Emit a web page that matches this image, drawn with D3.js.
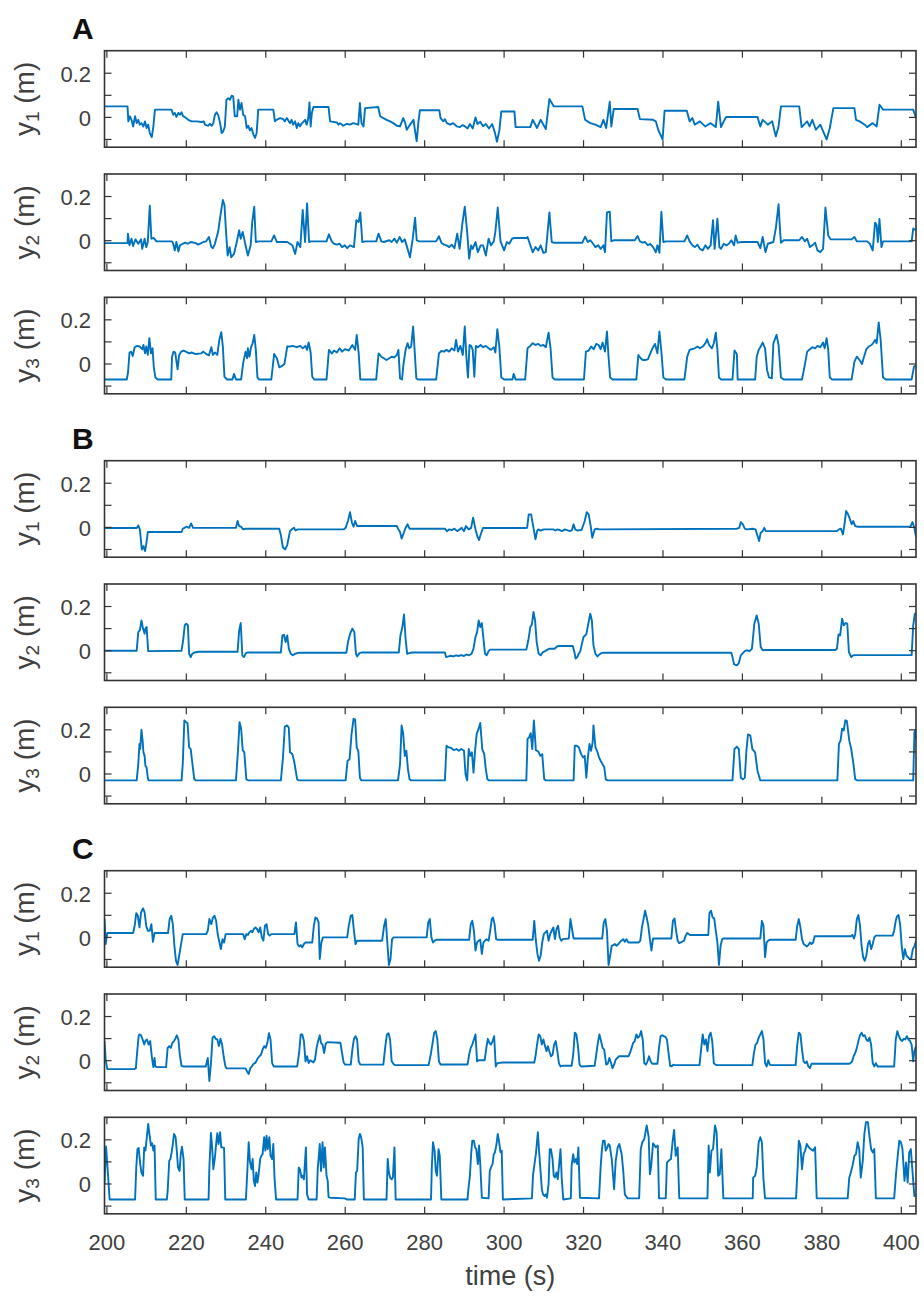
<!DOCTYPE html>
<html><head><meta charset="utf-8">
<script src="https://cdn.jsdelivr.net/npm/d3@7"></script>
<style>body{margin:0;background:#fff}svg{display:block}</style>
</head><body>
<svg id="c" width="924" height="1296"></svg>
<script>
// ---------- data ----------
const xTicks = [200,220,240,260,280,300,320,340,360,380,400];
const yTicks = [-0.1,0,0.1,0.2];
const yTickLabelled = [0,0.2];
const groupLabels = ["A","B","C"];
const subscripts = ["1","2","3"];
const xLabel = "time (s)";

const A1 = [[199.4,0.05],[205.2,0.05],[205.4,-0.018],[205.8,0.005],[206.2,-0.011],[206.6,-0.041],[207.1,0.005],[207.5,-0.026],[207.9,-0.011],[208.3,-0.033],[208.7,-0.026],[209.2,-0.041],[209.6,-0.018],[210.0,-0.048],[210.4,-0.033],[210.8,-0.071],[211.3,-0.089],[211.7,-0.041],[212.1,0.035],[216.3,0.035],[216.7,0.012],[217.1,0.02],[217.5,0.002],[218.0,0.02],[218.4,0.012],[218.8,0.023],[219.2,0.005],[219.6,0.002],[220.5,-0.011],[221.3,-0.018],[222.6,-0.018],[223.8,-0.021],[224.4,-0.018],[224.7,-0.033],[225.5,-0.038],[225.9,-0.029],[226.4,-0.038],[226.8,-0.026],[227.2,0.012],[227.6,0.023],[228.0,0.012],[228.5,-0.026],[228.9,-0.071],[229.3,-0.063],[229.7,-0.041],[230.1,0.08],[230.6,0.087],[231.0,0.08],[231.4,0.098],[231.8,0.095],[232.2,0.005],[232.8,0.005],[233.1,0.08],[233.5,0.035],[233.9,0.065],[234.3,0.012],[234.8,0.005],[235.2,-0.048],[235.6,-0.038],[236.0,-0.059],[236.4,-0.048],[236.9,-0.078],[237.3,-0.093],[237.7,-0.071],[238.1,0.035],[241.9,0.035],[242.3,-0.018],[242.7,-0.011],[243.6,-0.003],[244.4,-0.008],[244.8,-0.018],[245.3,-0.003],[246.1,-0.026],[246.5,-0.011],[246.9,-0.033],[247.4,-0.018],[247.8,-0.048],[248.2,-0.026],[248.6,-0.041],[249.0,-0.029],[249.9,-0.011],[250.3,-0.033],[250.7,-0.003],[251.0,0.068],[251.3,-0.041],[251.6,0.02],[252.0,0.047],[255.8,0.047],[256.2,-0.018],[257.9,-0.023],[258.3,-0.033],[258.7,-0.026],[259.5,-0.038],[260.4,-0.029],[261.2,-0.033],[262.0,-0.026],[263.3,-0.033],[263.7,0.065],[264.1,-0.026],[264.6,-0.041],[265.0,0.042],[268.3,0.047],[268.8,0.005],[269.6,-0.003],[270.4,-0.011],[271.3,-0.018],[272.1,-0.026],[273.0,-0.038],[273.8,-0.041],[274.6,-0.003],[275.1,-0.026],[275.5,-0.056],[276.3,-0.033],[277.2,-0.011],[277.6,-0.063],[278.0,-0.108],[278.4,-0.026],[278.8,0.032],[283.7,0.032],[284.0,-0.003],[284.7,-0.018],[285.1,-0.008],[285.6,-0.026],[286.4,-0.033],[287.2,-0.026],[288.1,-0.041],[288.9,-0.044],[289.5,-0.035],[290.1,-0.04],[290.8,-0.05],[291.4,-0.03],[292.1,-0.05],[292.8,0.0],[293.3,-0.03],[294.0,-0.02],[294.7,-0.04],[295.4,-0.03],[296.2,-0.05],[297.0,-0.03],[297.7,-0.07],[298.2,-0.11],[298.8,-0.06],[299.3,0.027],[302.6,0.027],[302.9,-0.044],[306.6,-0.044],[307.2,-0.011],[308.3,-0.048],[309.2,-0.011],[310.5,-0.053],[311.4,0.083],[312.5,0.05],[319.7,0.05],[320.4,-0.011],[321.7,-0.026],[323.0,-0.033],[324.3,-0.044],[325.0,-0.011],[325.7,-0.048],[326.6,0.071],[327.0,-0.041],[327.6,0.038],[333.6,0.038],[334.2,-0.008],[337.5,-0.011],[338.2,-0.018],[338.8,-0.056],[339.9,-0.1],[340.4,0.03],[346.0,0.03],[346.7,-0.018],[347.4,-0.003],[348.0,-0.033],[349.3,-0.018],[350.6,-0.041],[352.0,-0.026],[353.3,-0.044],[353.9,0.071],[354.6,-0.044],[355.3,-0.018],[355.9,0.002],[363.8,0.002],[364.5,-0.041],[365.1,-0.011],[366.4,-0.033],[367.5,-0.018],[368.4,-0.086],[369.1,-0.041],[369.7,0.05],[374.3,0.05],[374.9,-0.044],[376.3,-0.018],[376.9,-0.041],[377.6,-0.011],[378.5,-0.056],[379.6,-0.033],[381.2,-0.1],[382.0,-0.048],[382.9,0.042],[388.2,0.042],[388.6,-0.011],[389.5,-0.018],[390.8,-0.033],[391.4,-0.044],[392.8,-0.026],[393.8,-0.041],[394.5,0.057],[395.4,0.035],[403.0,0.035],[403.7,-0.003]];

const A2 = [[199.4,-0.011],[205.2,-0.011],[205.3,0.032],[205.7,-0.021],[206.2,0.009],[206.6,-0.024],[207.2,0.006],[207.9,-0.014],[208.6,0.006],[208.9,-0.037],[209.5,0.009],[209.9,-0.029],[210.3,-0.006],[210.8,0.159],[211.2,0.009],[211.8,0.012],[212.5,-0.003],[216.4,-0.003],[216.7,-0.014],[217.1,-0.044],[217.5,-0.006],[218.0,-0.049],[218.4,-0.021],[219.1,-0.014],[219.7,-0.009],[220.4,-0.014],[221.1,-0.006],[222.4,-0.011],[223.0,-0.018],[224.3,-0.006],[225.0,-0.003],[225.7,0.017],[226.3,-0.029],[226.7,-0.034],[227.2,-0.014],[228.0,0.04],[228.6,0.116],[229.2,0.185],[229.6,0.162],[230.0,0.04],[230.4,-0.067],[230.9,-0.029],[231.3,-0.075],[232.0,-0.06],[232.6,-0.014],[233.3,0.047],[233.7,0.009],[234.2,0.04],[234.9,-0.021],[235.5,-0.067],[236.2,-0.021],[236.6,0.085],[237.1,0.154],[237.5,-0.006],[238.2,-0.003],[241.4,-0.003],[242.1,0.024],[242.8,-0.006],[245.4,-0.006],[246.1,-0.014],[246.7,-0.021],[247.4,-0.06],[248.0,-0.006],[248.7,-0.029],[249.3,0.139],[249.9,-0.006],[250.4,0.169],[250.9,-0.006],[251.3,-0.003],[255.3,-0.003],[255.9,0.029],[256.6,-0.003],[257.2,-0.014],[257.9,-0.018],[258.6,-0.014],[259.2,-0.029],[259.9,-0.021],[260.5,-0.034],[261.2,-0.021],[262.2,-0.029],[262.8,0.093],[263.4,0.085],[263.8,0.128],[264.3,-0.006],[265.1,-0.003],[267.8,-0.003],[268.4,0.032],[269.1,-0.003],[269.7,-0.006],[271.1,0.002],[271.7,-0.006],[272.4,0.009],[273.0,-0.009],[273.7,0.017],[274.3,-0.006],[275.0,0.006],[275.7,-0.037],[276.3,-0.075],[277.0,0.009],[277.6,0.104],[278.0,0.002],[278.6,-0.003],[282.9,-0.003],[283.6,0.02],[284.2,-0.009],[284.9,-0.018],[285.5,-0.021],[286.2,-0.029],[286.8,-0.018],[287.5,-0.034],[288.2,0.032],[288.8,-0.037],[289.5,0.078],[290.1,0.154],[290.7,0.04],[291.2,-0.082],[291.7,-0.021],[292.1,-0.037],[292.8,-0.006],[293.4,-0.052],[294.1,-0.021],[294.7,-0.021],[295.4,-0.067],[296.1,0.009],[296.7,-0.021],[297.4,-0.003],[297.8,0.04],[298.4,0.15],[299.1,-0.003],[300.0,-0.044],[300.7,-0.006],[301.3,-0.014],[302.0,0.009],[302.6,0.012],[305.7,0.012],[305.9,0.017],[306.6,-0.021],[307.2,-0.052],[307.9,-0.029],[308.6,-0.044],[309.2,-0.021],[309.9,-0.055],[310.5,-0.052],[311.4,0.128],[312.0,-0.006],[312.5,-0.009],[319.7,-0.009],[320.4,0.018],[321.1,-0.006],[321.7,0.002],[322.4,-0.014],[323.0,-0.029],[323.7,-0.021],[324.3,-0.037],[325.0,-0.021],[325.4,-0.052],[325.9,0.128],[326.6,0.131],[327.0,-0.003],[327.6,0.002],[332.9,0.002],[333.6,0.021],[334.2,-0.003],[334.9,-0.009],[335.5,-0.006],[336.2,-0.021],[336.8,-0.014],[337.5,-0.029],[338.2,-0.052],[338.6,-0.021],[339.1,-0.055],[339.6,0.131],[340.1,-0.006],[340.8,-0.003],[345.4,-0.003],[346.1,0.024],[346.7,-0.003],[347.4,-0.021],[348.0,-0.029],[348.7,-0.018],[349.3,-0.037],[350.0,-0.044],[350.7,-0.021],[351.3,-0.037],[352.0,-0.021],[352.6,0.093],[353.0,-0.037],[353.7,0.1],[354.2,-0.029],[354.6,-0.037],[355.3,-0.014],[355.9,-0.021],[356.6,-0.014],[357.2,0.002],[357.9,-0.021],[358.3,0.024],[358.8,-0.009],[359.9,-0.006],[363.8,-0.006],[364.5,-0.034],[365.1,0.017],[365.8,-0.052],[366.4,-0.014],[367.8,-0.006],[368.4,0.055],[369.1,0.165],[369.5,0.04],[369.7,-0.009],[370.4,0.002],[374.3,0.002],[375.0,0.017],[375.7,-0.003],[376.3,0.009],[377.0,-0.029],[377.6,-0.021],[378.3,-0.009],[378.9,-0.044],[379.6,-0.052],[380.3,-0.037],[380.9,0.15],[381.6,0.024],[382.2,0.006],[387.5,0.006],[388.2,0.017],[388.8,-0.003],[391.4,-0.003],[392.1,-0.014],[392.8,-0.044],[393.4,0.082],[393.8,0.07],[394.1,-0.006],[394.5,0.098],[395.0,-0.029],[395.4,-0.003],[402.6,-0.003],[403.0,0.055],[403.7,0.047]];

const A3 = [[199.4,-0.07],[205.0,-0.07],[205.3,-0.042],[205.7,0.052],[206.1,0.056],[206.5,0.036],[207.0,0.076],[207.6,0.082],[208.3,0.079],[208.9,0.067],[209.2,0.086],[209.6,0.048],[209.9,0.079],[210.3,0.041],[210.7,0.117],[211.1,0.048],[211.5,0.071],[211.8,-0.012],[212.2,-0.061],[212.8,-0.07],[216.2,-0.07],[216.4,0.033],[216.8,0.056],[217.2,0.052],[217.8,-0.024],[218.2,0.041],[218.7,0.056],[219.3,0.061],[220.0,0.055],[220.7,0.048],[221.3,0.052],[222.4,0.045],[223.7,0.048],[224.3,0.056],[225.0,0.045],[225.7,0.039],[226.3,0.076],[226.7,0.041],[227.2,0.052],[227.8,0.041],[228.3,0.109],[228.8,0.144],[229.2,0.079],[229.6,-0.058],[230.3,-0.07],[231.6,-0.07],[232.0,-0.045],[232.5,-0.07],[233.8,-0.07],[234.3,0.003],[234.9,0.056],[235.3,0.026],[235.5,0.071],[235.9,0.033],[236.3,0.076],[236.7,0.094],[237.1,0.132],[237.5,0.064],[237.9,-0.061],[238.3,-0.07],[241.4,-0.07],[242.1,0.045],[242.8,0.026],[243.4,-0.015],[244.1,-0.009],[244.7,0.0],[245.4,0.079],[246.1,0.079],[246.7,0.082],[247.8,0.076],[248.7,0.082],[249.3,0.071],[250.0,0.082],[250.4,0.064],[250.8,0.098],[251.3,0.052],[251.7,-0.058],[252.2,-0.07],[255.3,-0.07],[255.9,0.064],[256.6,0.048],[257.2,0.061],[257.9,0.052],[258.6,0.071],[259.2,0.056],[259.9,0.067],[260.9,0.061],[261.8,0.086],[262.5,0.064],[262.9,0.132],[263.4,0.048],[263.8,-0.07],[267.8,-0.07],[268.4,0.048],[269.1,0.033],[269.7,0.026],[270.4,0.018],[271.1,0.026],[271.7,0.033],[272.4,0.03],[273.0,0.041],[273.4,0.064],[273.8,-0.065],[274.3,-0.07],[274.7,0.003],[275.2,0.064],[275.7,0.094],[276.1,0.071],[276.6,0.079],[277.1,0.17],[277.5,0.056],[277.9,-0.065],[278.3,-0.07],[282.9,-0.07],[283.6,0.048],[284.2,0.059],[284.9,0.056],[285.5,0.064],[286.2,0.056],[286.8,0.071],[287.5,0.061],[287.9,0.109],[288.4,0.056],[289.0,0.082],[289.6,0.041],[290.1,0.17],[290.5,0.033],[290.9,-0.061],[291.3,0.086],[291.7,0.082],[292.1,0.064],[292.5,-0.058],[292.9,0.082],[293.4,0.076],[294.1,0.086],[294.7,0.076],[295.4,0.082],[296.1,0.071],[296.7,0.064],[297.4,0.076],[297.8,0.052],[298.3,0.158],[298.8,0.079],[299.3,-0.061],[300.0,-0.07],[302.1,-0.07],[302.4,-0.045],[302.9,-0.07],[305.3,-0.07],[305.9,0.071],[306.6,0.082],[307.2,0.094],[307.9,0.086],[308.6,0.091],[309.2,0.082],[309.9,0.086],[310.5,0.076],[311.2,0.142],[311.7,0.071],[312.2,-0.061],[312.7,-0.07],[320.1,-0.07],[320.6,0.056],[321.3,0.061],[321.9,0.079],[322.6,0.067],[323.2,0.091],[323.8,0.086],[324.3,0.067],[324.8,0.097],[325.4,0.056],[325.9,0.147],[326.3,0.033],[326.7,-0.061],[327.3,-0.07],[333.3,-0.07],[333.8,0.041],[334.4,0.026],[334.9,0.018],[335.5,0.018],[336.2,0.021],[336.8,0.048],[337.5,0.076],[338.0,0.091],[338.6,0.048],[339.1,0.147],[339.6,0.056],[340.1,-0.061],[340.8,-0.07],[345.4,-0.07],[346.1,0.033],[346.7,0.064],[347.4,0.068],[348.0,0.071],[348.7,0.079],[349.3,0.071],[350.0,0.079],[350.7,0.094],[351.1,0.112],[351.6,0.086],[352.3,0.071],[352.8,0.094],[353.3,0.142],[353.7,0.064],[354.1,-0.061],[354.6,-0.07],[357.5,-0.07],[358.0,0.061],[358.6,0.045],[358.8,-0.07],[363.2,-0.07],[363.6,0.033],[364.1,0.064],[364.5,0.076],[365.1,0.097],[365.7,0.071],[366.2,-0.027],[366.7,-0.061],[367.4,-0.065],[367.8,0.094],[368.6,0.132],[369.1,0.086],[369.7,-0.061],[370.4,-0.07],[375.0,-0.07],[375.7,-0.005],[376.3,0.056],[377.0,0.067],[377.6,0.076],[378.3,0.071],[378.9,0.082],[379.6,0.076],[380.3,0.097],[380.7,0.071],[381.2,0.117],[381.6,0.064],[382.0,-0.061],[382.6,-0.07],[387.5,-0.07],[388.2,0.011],[388.8,0.033],[389.5,0.018],[390.1,0.0],[390.5,0.026],[391.2,0.067],[391.8,0.079],[392.5,0.086],[393.0,0.097],[393.4,0.109],[393.8,0.094],[394.3,0.188],[394.8,0.109],[395.4,-0.061],[396.1,-0.07],[402.6,-0.07],[403.2,-0.012],[403.7,-0.005]];

const B1 = [[199.4,-0.003],[207.5,-0.003],[207.9,0.009],[208.3,-0.009],[208.8,-0.1],[209.2,-0.085],[209.6,-0.107],[209.9,-0.077],[210.3,-0.021],[218.8,-0.021],[219.1,-0.006],[219.5,-0.002],[220.0,0.003],[220.7,-0.002],[221.2,0.018],[221.7,-0.002],[232.5,-0.002],[232.9,0.029],[233.3,0.006],[233.8,0.003],[234.3,-0.009],[234.9,-0.006],[243.4,-0.006],[243.8,-0.035],[244.3,-0.09],[244.9,-0.1],[245.4,-0.08],[246.1,-0.017],[246.7,-0.006],[247.1,-0.002],[247.5,-0.014],[248.0,-0.009],[259.6,-0.009],[260.1,-0.002],[260.7,0.029],[261.2,0.069],[261.7,0.021],[262.1,0.003],[262.5,0.029],[263.0,0.006],[273.0,0.006],[273.4,-0.009],[273.8,-0.021],[274.2,-0.051],[274.6,-0.032],[275.1,-0.006],[275.7,0.014],[276.2,-0.006],[285.1,-0.006],[285.6,-0.017],[286.2,-0.009],[286.8,-0.012],[287.5,-0.006],[288.2,-0.017],[288.8,-0.009],[289.3,-0.002],[289.9,-0.017],[290.4,0.006],[291.1,-0.009],[291.7,-0.002],[292.2,0.044],[292.8,-0.009],[293.3,-0.042],[293.7,-0.057],[294.1,-0.032],[294.7,-0.002],[295.4,-0.003],[305.3,-0.003],[305.8,-0.002],[306.2,0.059],[306.8,0.059],[307.4,-0.002],[307.9,-0.054],[308.3,-0.017],[308.6,-0.009],[309.2,-0.015],[310.0,-0.009],[312.4,-0.009],[312.9,-0.014],[313.4,-0.009],[314.0,-0.012],[314.6,-0.017],[315.3,-0.009],[316.6,-0.017],[317.1,-0.012],[317.5,0.014],[317.9,-0.009],[318.4,-0.014],[319.5,-0.012],[320.3,0.029],[320.8,0.069],[321.3,0.059],[321.8,0.006],[322.2,-0.047],[322.8,-0.009],[323.3,-0.006],[324.0,-0.009],[358.6,-0.006],[359.2,-0.002],[359.6,0.024],[360.1,0.014],[360.6,-0.006],[361.1,-0.009],[362.6,-0.006],[363.3,-0.009],[363.7,-0.032],[364.2,-0.062],[364.6,-0.024],[365.1,-0.017],[365.5,-0.002],[365.9,-0.017],[383.8,-0.017],[384.3,-0.009],[384.8,-0.006],[385.3,-0.032],[385.7,0.014],[386.1,0.074],[386.6,0.059],[387.1,0.036],[387.5,0.014],[387.9,0.029],[388.4,0.006],[389.1,0.003],[402.3,0.003],[402.8,0.024],[403.3,-0.002],[403.7,-0.042]];

const B2 = [[199.4,0.0],[207.5,0.0],[207.9,0.084],[208.3,0.092],[208.7,0.137],[209.1,0.1],[209.5,0.077],[209.7,0.1],[210.0,0.107],[210.4,-0.002],[218.8,0.0],[219.2,0.047],[219.6,0.115],[220.0,0.122],[220.4,0.115],[220.7,-0.014],[221.1,-0.029],[221.5,-0.014],[222.1,-0.008],[223.0,-0.005],[232.9,-0.005],[233.3,0.092],[233.7,0.125],[234.1,-0.021],[234.5,-0.029],[235.0,-0.011],[235.5,-0.008],[243.8,-0.008],[244.2,0.069],[244.6,0.072],[245.0,0.039],[245.4,0.069],[245.8,0.009],[246.3,-0.014],[246.8,-0.021],[247.4,-0.014],[248.4,-0.009],[260.3,-0.009],[260.7,0.039],[261.3,0.08],[261.8,0.1],[262.3,0.084],[262.7,-0.014],[263.0,-0.026],[263.6,-0.011],[264.2,-0.008],[273.5,-0.008],[273.9,0.069],[274.4,0.107],[274.8,0.164],[275.2,0.054],[275.6,-0.014],[276.1,-0.011],[276.8,-0.008],[285.1,-0.008],[285.4,-0.029],[286.0,-0.026],[286.5,-0.023],[287.2,-0.026],[287.9,-0.021],[288.5,-0.024],[289.2,-0.02],[289.9,-0.024],[290.5,-0.017],[291.2,-0.021],[291.8,-0.014],[292.3,0.009],[292.8,0.062],[293.2,0.084],[293.6,0.137],[294.0,0.107],[294.4,0.125],[294.8,0.054],[295.2,-0.014],[295.6,-0.021],[296.1,-0.002],[296.5,0.005],[305.6,0.005],[306.1,0.047],[306.6,0.107],[307.0,0.119],[307.4,0.175],[307.8,0.137],[308.2,0.039],[308.7,-0.014],[309.2,-0.021],[309.8,-0.006],[310.3,-0.002],[311.4,0.009],[312.7,0.009],[313.4,0.02],[314.0,0.021],[317.3,0.021],[317.7,-0.006],[318.0,-0.036],[318.4,-0.029],[318.8,-0.014],[319.2,-0.002],[319.6,0.032],[320.0,0.062],[320.7,0.074],[321.2,0.122],[321.7,0.167],[322.1,0.137],[322.5,0.024],[323.0,-0.014],[323.5,-0.026],[324.0,-0.017],[324.5,-0.011],[325.2,-0.009],[357.2,-0.009],[357.5,-0.029],[357.9,-0.062],[358.6,-0.066],[359.1,-0.056],[359.6,-0.021],[360.1,-0.011],[360.6,-0.002],[361.1,0.002],[361.8,-0.002],[362.4,0.009],[363.0,0.122],[363.6,0.16],[364.1,0.122],[364.6,0.017],[365.1,0.002],[365.8,0.003],[383.4,0.003],[383.8,0.009],[384.2,0.074],[384.6,0.069],[385.1,0.145],[385.5,0.115],[386.0,0.125],[386.4,0.122],[386.8,-0.006],[387.4,-0.029],[387.9,-0.021],[388.4,-0.02],[402.6,-0.02],[403.0,0.115],[403.4,0.167],[403.7,0.17]];

const B3 = [[199.4,-0.029],[207.5,-0.029],[207.9,0.044],[208.2,0.136],[208.4,0.113],[208.7,0.2],[209.0,0.151],[209.2,0.098],[209.5,0.082],[209.7,0.037],[210.0,0.029],[210.3,-0.017],[210.5,-0.029],[218.8,-0.029],[219.1,0.044],[219.5,0.243],[219.9,0.235],[220.3,0.231],[220.7,0.121],[221.1,0.113],[221.5,0.052],[222.0,-0.024],[222.4,-0.029],[232.5,-0.029],[233.0,0.105],[233.4,0.235],[233.8,0.205],[234.2,0.108],[234.6,0.098],[235.1,-0.024],[235.6,-0.029],[243.8,-0.029],[244.3,0.067],[244.8,0.215],[245.4,0.22],[245.8,0.209],[246.1,0.098],[246.7,0.09],[247.2,0.052],[247.9,-0.024],[248.3,-0.029],[260.1,-0.029],[260.6,0.06],[261.1,0.067],[261.6,0.182],[262.1,0.25],[262.5,0.246],[262.9,0.121],[263.3,0.105],[263.7,-0.017],[264.1,-0.029],[273.3,-0.029],[273.8,0.044],[274.2,0.22],[274.6,0.182],[275.0,0.082],[275.4,0.105],[275.8,0.021],[276.2,-0.024],[276.6,-0.029],[285.1,-0.029],[285.5,0.128],[286.0,0.121],[286.7,0.118],[287.3,0.108],[288.0,0.113],[288.6,0.105],[289.2,0.113],[289.9,0.105],[290.3,-0.002],[290.7,-0.029],[291.1,0.113],[291.5,0.082],[291.9,0.098],[292.3,0.006],[292.7,0.105],[293.1,0.182],[293.6,0.205],[294.0,0.231],[294.5,0.113],[295.0,0.09],[295.4,0.021],[295.8,-0.024],[296.2,-0.029],[305.6,-0.029],[305.9,0.159],[306.3,0.166],[306.7,0.185],[307.1,0.113],[307.5,0.243],[308.0,0.108],[308.6,0.102],[309.1,0.082],[309.6,0.09],[310.1,-0.024],[310.5,-0.029],[317.5,-0.029],[317.8,0.128],[318.3,0.128],[318.8,0.121],[319.4,0.09],[319.9,0.075],[320.3,0.082],[320.7,-0.017],[321.1,0.075],[321.5,0.136],[321.9,0.105],[322.3,0.144],[322.5,0.22],[323.0,0.121],[323.4,0.105],[323.9,0.075],[324.3,0.06],[324.8,0.044],[325.2,0.032],[325.6,-0.024],[326.0,-0.029],[357.5,-0.029],[358.0,0.113],[358.6,0.124],[359.1,0.113],[359.6,-0.017],[360.1,-0.024],[360.6,-0.017],[361.0,0.105],[361.4,0.179],[362.0,0.174],[362.5,0.113],[363.2,0.098],[363.8,0.014],[364.5,-0.029],[383.9,-0.029],[384.3,0.136],[384.7,0.151],[385.1,0.205],[385.5,0.197],[385.9,0.243],[386.3,0.24],[386.9,0.151],[387.4,0.113],[387.9,0.052],[388.4,-0.024],[388.9,-0.029],[403.0,-0.029],[403.3,0.189],[403.5,0.197],[403.7,0.159]];

const C1 = [[199.4,0.083],[199.7,-0.03],[200.1,0.02],[206.6,0.02],[207.0,0.053],[207.4,0.11],[207.8,0.098],[208.2,0.045],[208.6,0.113],[209.1,0.131],[209.5,0.113],[209.9,0.053],[210.3,0.03],[210.8,0.03],[211.2,0.06],[211.6,-0.02],[212.0,0.02],[215.4,0.02],[215.8,0.083],[216.2,0.098],[216.6,0.06],[217.0,-0.038],[217.4,-0.106],[217.8,-0.125],[218.2,-0.083],[218.6,-0.038],[219.1,0.015],[225.0,0.015],[225.4,0.03],[225.8,0.083],[226.3,0.06],[226.7,0.09],[227.1,0.098],[227.5,0.075],[227.9,0.015],[228.3,-0.02],[228.7,-0.053],[229.1,-0.008],[229.5,-0.023],[229.9,0.015],[234.3,0.015],[234.7,-0.008],[235.1,0.015],[235.5,0.011],[235.9,0.023],[236.3,0.03],[236.6,0.023],[237.0,0.038],[237.4,0.045],[237.8,0.038],[238.2,0.023],[238.6,0.045],[239.0,0.0],[239.4,-0.015],[239.8,0.053],[240.2,0.06],[240.6,0.015],[241.0,0.008],[241.4,0.015],[247.2,0.015],[247.6,0.068],[248.0,-0.03],[248.4,-0.041],[248.8,-0.035],[249.2,-0.045],[249.6,-0.03],[250.0,-0.023],[251.7,-0.023],[252.1,0.053],[252.5,0.09],[252.9,0.086],[253.3,0.068],[253.6,-0.098],[254.0,-0.023],[254.4,0.0],[260.5,0.0],[260.9,0.053],[261.4,0.098],[261.8,0.101],[262.2,0.03],[262.6,-0.03],[263.0,-0.015],[269.3,-0.015],[269.8,0.053],[270.2,0.083],[270.6,-0.023],[271.0,-0.125],[271.4,-0.098],[271.8,-0.008],[272.2,0.0],[280.5,0.0],[280.9,0.068],[281.3,0.083],[281.7,0.0],[282.1,-0.023],[282.5,-0.015],[282.9,-0.011],[291.2,-0.011],[291.6,0.06],[292.0,0.075],[292.4,0.03],[292.8,-0.06],[293.2,-0.023],[293.6,-0.015],[294.0,-0.011],[294.4,-0.075],[294.8,-0.023],[295.2,-0.015],[295.6,-0.008],[296.1,-0.015],[296.5,0.03],[296.9,0.083],[297.2,0.09],[297.6,0.06],[298.0,-0.008],[298.4,-0.011],[307.2,-0.011],[307.6,0.075],[308.0,-0.015],[308.4,-0.075],[308.8,-0.106],[309.2,-0.083],[309.6,-0.023],[310.0,0.015],[310.4,0.023],[310.8,0.03],[311.2,-0.015],[311.6,0.015],[312.0,0.03],[312.4,0.045],[312.8,-0.008],[313.2,0.038],[313.6,0.053],[314.0,0.0],[314.4,-0.015],[314.8,-0.008],[316.3,-0.005],[316.7,0.083],[317.1,0.038],[317.5,-0.005],[324.7,-0.005],[325.1,0.068],[325.5,0.083],[325.9,0.03],[326.3,-0.125],[326.7,-0.083],[327.1,-0.038],[327.5,-0.035],[327.9,-0.03],[328.3,-0.038],[328.8,-0.03],[329.1,-0.023],[329.5,-0.015],[330.0,-0.008],[330.4,-0.02],[330.8,-0.008],[331.3,-0.023],[333.9,-0.023],[334.3,-0.015],[334.7,0.045],[335.1,0.083],[335.5,0.121],[335.9,0.09],[336.3,0.053],[336.7,-0.008],[337.1,-0.06],[337.5,-0.005],[342.1,-0.005],[342.5,0.075],[342.9,0.086],[343.3,0.03],[343.7,-0.015],[344.1,-0.026],[344.5,-0.023],[345.3,-0.015],[345.7,0.008],[346.1,0.02],[346.5,0.015],[346.8,0.011],[351.4,0.011],[351.7,0.11],[352.1,0.121],[352.5,0.09],[352.9,0.086],[353.3,0.03],[353.7,-0.023],[354.1,-0.125],[354.5,-0.038],[354.9,-0.008],[355.3,-0.005],[364.5,-0.005],[364.9,0.075],[365.3,0.053],[365.7,-0.09],[366.1,-0.023],[366.5,-0.015],[366.9,-0.011],[373.4,-0.011],[373.8,0.053],[374.2,0.083],[374.6,0.045],[375.0,-0.008],[375.4,-0.03],[375.8,-0.035],[376.2,-0.041],[376.6,-0.035],[377.0,-0.023],[377.4,-0.03],[377.8,-0.023],[378.2,0.005],[387.3,0.005],[387.7,0.011],[388.1,-0.005],[388.4,0.015],[388.8,0.083],[389.2,0.101],[389.6,0.053],[390.0,-0.038],[390.4,-0.09],[390.8,-0.106],[391.2,-0.083],[391.6,-0.03],[392.0,-0.015],[392.4,-0.053],[392.8,-0.03],[393.2,0.0],[393.6,0.008],[397.8,0.008],[398.2,0.03],[398.6,0.075],[398.9,0.095],[399.3,0.101],[399.7,0.06],[400.1,-0.038],[400.5,-0.098],[400.9,-0.053],[401.3,-0.083],[401.7,-0.09],[402.1,-0.098],[402.5,-0.095],[402.9,-0.053],[403.3,-0.041],[403.7,-0.015]];

const C2 = [[199.4,0.089],[199.7,0.005],[200.1,-0.038],[206.9,-0.038],[207.3,-0.034],[207.6,0.035],[208.0,0.111],[208.2,0.119],[208.6,0.115],[209.0,0.096],[209.4,0.073],[209.7,0.089],[210.1,0.096],[210.5,0.073],[210.9,0.089],[211.3,0.02],[211.7,-0.029],[212.0,0.012],[212.2,-0.026],[212.6,-0.029],[214.9,-0.029],[215.3,0.058],[215.7,0.066],[216.1,0.058],[216.5,0.081],[216.9,0.089],[217.2,0.099],[217.6,0.115],[218.0,0.096],[218.4,0.02],[218.8,-0.023],[219.2,-0.026],[224.9,-0.026],[225.4,0.012],[225.8,-0.092],[226.2,-0.011],[226.6,0.104],[227.0,0.111],[227.4,0.099],[227.8,0.096],[228.2,0.066],[228.6,0.099],[229.0,0.073],[229.4,0.02],[229.8,-0.023],[230.1,-0.035],[234.9,-0.035],[235.3,-0.049],[235.7,-0.06],[236.1,-0.034],[236.5,-0.026],[236.9,-0.014],[237.3,-0.011],[237.6,-0.003],[238.0,0.012],[238.4,0.02],[238.8,0.027],[239.2,0.05],[239.6,0.066],[240.0,0.058],[240.4,0.081],[240.8,0.124],[241.2,0.096],[241.6,-0.011],[242.0,-0.026],[247.9,-0.026],[248.4,0.035],[248.8,0.119],[249.2,0.119],[249.6,0.089],[250.0,-0.003],[250.4,0.02],[250.8,-0.011],[251.2,0.002],[251.6,-0.003],[252.0,-0.008],[252.4,0.005],[252.8,0.058],[253.1,0.084],[253.6,0.115],[253.9,0.081],[254.3,0.073],[254.7,0.035],[255.1,0.078],[255.5,0.084],[258.4,0.081],[258.8,0.081],[259.2,0.035],[259.6,-0.008],[260.0,-0.018],[261.4,-0.018],[261.8,0.05],[262.2,0.099],[262.6,0.111],[263.0,0.096],[263.4,-0.003],[263.8,-0.018],[269.6,-0.018],[270.1,0.066],[270.5,0.119],[270.9,0.124],[271.3,0.096],[271.7,-0.003],[272.1,-0.014],[272.5,-0.02],[281.0,-0.02],[281.6,0.035],[282.0,0.081],[282.4,0.127],[282.8,0.134],[283.2,0.096],[283.6,-0.003],[284.0,-0.017],[290.8,-0.017],[291.2,0.027],[291.6,0.058],[292.0,0.073],[292.4,0.096],[292.8,0.119],[293.2,-0.003],[293.6,0.002],[295.1,0.002],[295.6,0.066],[295.9,0.099],[296.3,0.081],[296.7,0.073],[297.1,0.089],[297.5,0.111],[297.9,-0.026],[298.3,-0.011],[299.7,-0.008],[307.6,-0.008],[307.9,0.02],[308.3,0.073],[308.7,0.119],[309.1,0.111],[309.5,0.073],[309.9,0.096],[310.3,0.066],[310.7,0.043],[311.0,0.066],[311.4,0.043],[311.8,0.02],[312.2,0.027],[312.6,0.073],[313.0,0.089],[313.4,0.043],[313.8,-0.011],[314.2,-0.026],[314.6,-0.023],[317.0,-0.023],[317.4,0.027],[317.8,0.127],[318.2,0.119],[318.6,0.066],[319.0,-0.018],[319.4,-0.026],[322.8,-0.023],[323.2,0.027],[323.6,0.081],[324.0,0.119],[324.4,0.089],[324.8,0.058],[325.2,0.05],[325.7,-0.018],[326.1,-0.014],[326.5,0.012],[326.9,-0.008],[327.3,-0.034],[327.7,-0.018],[328.1,0.005],[328.5,0.012],[328.9,0.02],[331.3,0.02],[331.7,0.035],[332.1,0.058],[332.5,0.081],[332.9,0.089],[333.3,0.119],[333.7,0.104],[334.1,0.111],[334.5,0.134],[334.9,0.096],[335.3,-0.011],[335.7,-0.018],[336.1,-0.003],[336.5,0.02],[336.9,-0.003],[337.3,-0.014],[338.6,-0.014],[339.0,0.058],[339.4,0.111],[339.8,0.115],[340.2,0.111],[340.6,0.108],[341.0,0.096],[341.4,0.035],[341.8,-0.023],[342.2,-0.026],[342.6,-0.018],[342.9,-0.02],[349.2,-0.02],[349.6,0.05],[350.0,0.119],[350.4,0.073],[350.8,0.096],[351.2,0.043],[351.6,0.111],[352.0,0.127],[352.4,0.089],[352.8,-0.011],[353.2,-0.018],[353.6,-0.02],[362.5,-0.02],[362.9,0.035],[363.3,0.073],[363.7,0.081],[364.1,0.104],[364.5,0.119],[364.9,0.134],[365.3,0.096],[365.7,-0.011],[366.1,-0.026],[366.5,0.002],[366.9,-0.018],[367.3,-0.02],[373.4,-0.02],[373.8,0.073],[374.2,0.127],[374.6,0.119],[375.0,0.05],[375.4,-0.003],[375.8,-0.011],[376.2,-0.003],[376.6,-0.026],[377.0,-0.034],[377.4,-0.014],[386.8,-0.014],[387.2,-0.011],[387.6,-0.003],[388.0,0.02],[388.4,0.035],[388.8,0.058],[389.2,0.089],[389.6,0.115],[390.0,0.127],[390.4,0.111],[390.8,0.115],[391.2,0.096],[391.6,0.089],[392.0,0.104],[392.4,0.073],[392.8,-0.011],[393.2,-0.026],[393.6,-0.011],[394.0,-0.026],[398.2,-0.026],[398.6,0.096],[399.0,0.134],[399.4,0.111],[399.8,0.096],[400.2,0.089],[400.6,0.099],[401.0,0.096],[401.4,0.111],[401.8,0.096],[402.2,0.089],[402.6,0.073],[403.0,-0.003],[403.3,0.043],[403.7,0.066]];

const C3 = [[199.4,0.0],[199.8,0.17],[200.7,-0.07],[207.1,-0.07],[207.4,0.075],[207.7,0.158],[208.0,0.163],[208.4,0.09],[208.7,0.052],[209.1,0.037],[209.4,0.166],[209.7,0.151],[210.1,0.219],[210.4,0.272],[210.7,0.227],[211.1,0.174],[211.4,0.184],[211.7,0.151],[212.0,0.174],[212.3,-0.07],[215.1,-0.07],[215.3,-0.032],[215.7,0.105],[216.0,0.113],[216.3,0.143],[216.6,0.181],[216.9,0.227],[217.3,0.212],[217.6,0.151],[217.9,0.075],[218.3,0.059],[218.6,0.135],[218.9,0.169],[219.3,0.113],[219.6,-0.07],[225.6,-0.07],[225.8,0.075],[226.2,0.231],[226.5,0.166],[226.8,0.067],[227.2,0.12],[227.5,0.181],[227.8,0.23],[228.1,0.181],[228.5,0.234],[228.8,0.166],[229.1,0.166],[229.5,0.163],[229.8,-0.07],[235.0,-0.07],[235.4,0.075],[235.7,0.189],[236.0,0.105],[236.4,0.067],[236.7,0.113],[237.0,0.014],[237.3,-0.009],[237.6,0.052],[237.9,0.006],[238.2,0.044],[238.6,0.113],[238.9,0.128],[239.2,0.135],[239.6,0.212],[239.9,0.151],[240.2,0.219],[240.5,0.158],[240.9,0.212],[241.2,0.128],[241.6,0.113],[241.9,0.181],[242.2,0.029],[242.6,-0.07],[248.0,-0.07],[248.3,0.075],[248.6,0.067],[249.0,0.029],[249.3,0.037],[249.6,0.021],[250.1,0.166],[250.4,-0.047],[250.8,-0.07],[252.8,-0.07],[253.1,0.075],[253.3,0.113],[253.6,0.181],[253.9,0.059],[254.3,0.189],[254.6,0.075],[254.9,0.166],[255.3,0.037],[255.6,0.014],[255.8,-0.059],[256.2,-0.062],[259.9,-0.065],[260.4,-0.07],[262.4,-0.07],[262.7,0.052],[263.0,0.059],[263.4,0.204],[263.7,0.227],[264.0,0.212],[264.4,0.166],[264.7,-0.07],[270.4,-0.07],[270.7,0.113],[271.0,0.052],[271.3,0.029],[271.7,0.021],[272.0,0.029],[272.4,0.166],[272.7,-0.07],[281.6,-0.07],[281.8,0.075],[282.1,0.189],[282.5,0.151],[282.8,0.059],[283.1,0.037],[283.5,0.158],[283.8,0.128],[284.2,-0.07],[290.8,-0.07],[291.0,-0.024],[291.4,0.037],[291.7,0.135],[292.0,0.196],[292.4,0.196],[292.7,0.166],[293.0,0.158],[293.4,0.09],[293.7,0.174],[294.0,0.09],[294.4,-0.062],[296.1,-0.065],[296.4,0.059],[296.7,0.075],[297.1,0.09],[297.4,0.135],[297.7,0.143],[298.1,0.181],[298.4,0.227],[298.7,0.196],[299.1,0.143],[299.4,0.151],[299.7,-0.07],[307.0,-0.065],[307.3,0.044],[308.0,0.135],[308.5,0.234],[308.8,0.151],[309.2,0.052],[309.5,-0.024],[309.8,-0.047],[310.2,-0.055],[310.5,-0.047],[310.8,-0.062],[311.2,0.0],[311.5,0.158],[311.8,0.158],[312.2,0.113],[312.5,0.037],[312.8,0.029],[313.2,0.052],[313.5,0.021],[313.9,0.097],[314.2,0.158],[314.5,0.029],[314.9,-0.07],[316.8,-0.065],[317.0,0.082],[317.4,0.135],[317.7,0.097],[318.1,0.113],[318.4,0.09],[318.7,0.166],[319.1,-0.062],[323.9,-0.065],[324.3,0.075],[324.6,0.151],[324.9,0.196],[325.3,0.196],[325.6,0.151],[326.0,0.166],[326.3,0.181],[326.6,0.174],[327.1,0.113],[327.7,-0.024],[328.1,0.105],[328.6,0.166],[329.0,0.181],[329.6,0.135],[330.0,0.059],[330.4,-0.047],[331.1,-0.065],[334.0,-0.065],[334.4,0.158],[334.8,0.189],[335.3,0.204],[335.9,0.265],[336.4,0.212],[336.7,0.044],[337.0,0.075],[337.5,0.184],[338.2,0.166],[338.7,0.174],[339.0,-0.065],[340.7,-0.065],[341.0,0.097],[341.4,0.105],[342.0,0.113],[342.4,0.189],[342.8,0.245],[343.2,0.128],[343.7,0.166],[344.1,-0.065],[351.2,-0.065],[351.5,0.174],[351.8,0.052],[352.2,0.151],[352.6,0.158],[353.1,0.265],[353.5,0.234],[353.9,0.037],[354.3,0.044],[354.7,0.158],[355.2,-0.065],[362.6,-0.065],[362.7,0.029],[363.2,0.037],[363.6,0.075],[364.1,0.189],[364.5,0.212],[364.9,0.189],[365.3,0.021],[365.7,-0.065],[373.5,-0.065],[373.9,0.075],[374.2,0.196],[374.6,0.174],[375.0,0.067],[375.4,0.135],[375.8,0.151],[376.2,0.181],[376.7,0.166],[377.2,0.158],[377.8,0.151],[378.3,0.166],[378.7,-0.065],[386.5,-0.065],[386.9,0.029],[387.3,0.052],[387.7,0.082],[388.2,0.128],[388.6,0.135],[389.0,0.189],[389.4,0.158],[389.8,0.029],[390.3,0.105],[390.7,0.227],[391.1,0.28],[391.6,0.28],[391.9,0.227],[392.4,0.158],[392.8,0.143],[393.2,0.158],[393.6,-0.065],[398.2,-0.065],[398.7,0.052],[399.1,0.128],[399.5,0.196],[399.9,0.189],[400.3,0.158],[400.8,0.014],[401.2,0.097],[401.6,0.006],[402.0,0.143],[402.4,0.158],[402.9,0.037],[403.3,-0.055],[403.7,-0.047]];

const groups = [[A1,A2,A3],[B1,B2,B3],[C1,C2,C3]];

// ---------- layout ----------
const FONT = "'Liberation Sans', Arial, Helvetica, sans-serif";
const AX = "#333333", TXT = "#404040", LINE = "#0072BD";
const left = 104.5, right = 916;
const groupTop = [50.7, 460.7, 870.7];
const pitch = 123.3, H = 96.5, TL = 7;

const svg = d3.select("#c");
const x = d3.scaleLinear().domain([199.4, 403.7]).range([left, right]);

groups.forEach((g, gi) => {
  svg.append("text").attr("x", 72).attr("y", groupTop[gi] - 11.7)
    .attr("font-family", FONT).attr("font-weight", "bold").attr("font-size", 30)
    .attr("fill", "#111").text(groupLabels[gi]);

  g.forEach((series, si) => {
    const top = groupTop[gi] + si * pitch, bot = top + H;
    const y = d3.scaleLinear().domain([-0.135, 0.302]).range([bot, top]);
    const pan = svg.append("g");
    const cid = `clip${gi}${si}`;
    pan.append("clipPath").attr("id", cid).append("rect")
      .attr("x", left).attr("y", top).attr("width", right - left).attr("height", H);

    // data line
    pan.append("path").datum(series)
      .attr("clip-path", `url(#${cid})`)
      .attr("fill", "none").attr("stroke", LINE).attr("stroke-width", 1.9)
      .attr("stroke-linejoin", "round")
      .attr("d", d3.line().x(d => x(d[0])).y(d => y(d[1])));

    // ticks (inward, all four sides)
    const tk = pan.append("g").attr("stroke", AX).attr("stroke-width", 1.2);
    xTicks.forEach(t => {
      tk.append("line").attr("x1", x(t)).attr("x2", x(t)).attr("y1", bot).attr("y2", bot - TL);
      tk.append("line").attr("x1", x(t)).attr("x2", x(t)).attr("y1", top).attr("y2", top + TL);
    });
    yTicks.forEach(v => {
      tk.append("line").attr("x1", left).attr("x2", left + TL).attr("y1", y(v)).attr("y2", y(v));
      tk.append("line").attr("x1", right).attr("x2", right - TL).attr("y1", y(v)).attr("y2", y(v));
    });
    // box
    pan.append("rect").attr("x", left).attr("y", top).attr("width", right - left).attr("height", H)
      .attr("fill", "none").attr("stroke", AX).attr("stroke-width", 1.6);

    // y tick labels
    yTickLabelled.forEach(v => {
      pan.append("text").attr("x", 91).attr("y", y(v) + 8.5)
        .attr("text-anchor", "end").attr("font-family", FONT).attr("font-size", 22)
        .attr("fill", TXT).text(d3.format("")(v));
    });

    // y label
    const cy = (top + bot) / 2;
    const lab = pan.append("text").attr("transform", `translate(34,${cy}) rotate(-90)`)
      .attr("text-anchor", "middle").attr("font-family", FONT).attr("font-size", 28)
      .attr("fill", TXT);
    lab.append("tspan").text("y");
    lab.append("tspan").attr("font-size", 19).attr("dy", 5).text(subscripts[si]);
    lab.append("tspan").attr("dy", -5).text(" (m)");

    // x tick labels on bottom panel only
    if (gi === 2 && si === 2) {
      xTicks.forEach(t => {
        svg.append("text").attr("x", x(t)).attr("y", bot + 36)
          .attr("text-anchor", "middle").attr("font-family", FONT).attr("font-size", 22)
          .attr("fill", TXT).text(t);
      });
      svg.append("text").attr("x", (left + right) / 2).attr("y", bot + 71)
        .attr("text-anchor", "middle").attr("font-family", FONT).attr("font-size", 27)
        .attr("fill", TXT).text(xLabel);
    }
  });
});
</script>
</body></html>
